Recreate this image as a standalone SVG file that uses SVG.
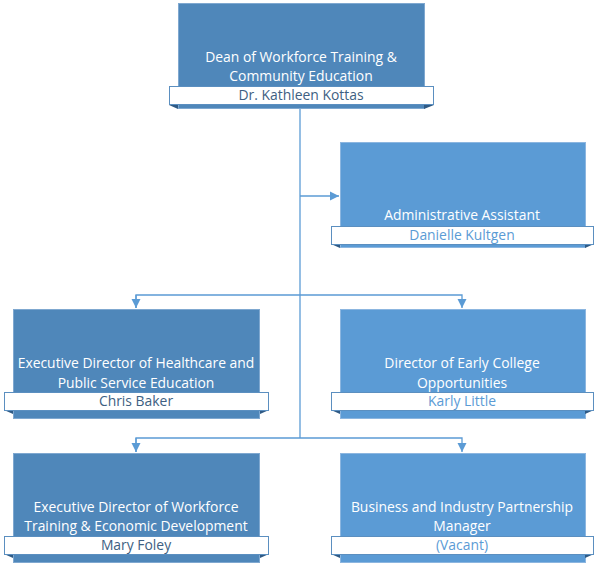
<svg xmlns="http://www.w3.org/2000/svg" width="600" height="571" viewBox="0 0 600 571">
<defs>
<marker id="arr" markerWidth="10" markerHeight="10" refX="9" refY="5" orient="auto" markerUnits="userSpaceOnUse">
<path d="M0,0.5 L9,5 L0,9.5 Z" fill="#5B9BD5"/>
</marker>
</defs>
<style>
.dark{fill:#4F87BA;stroke:#7FA8D0;stroke-width:1}
.light{fill:#5B9BD5;stroke:#8CB6E0;stroke-width:1}
.bar{fill:#FFFFFF;stroke:#5B8FC0;stroke-width:1}
.fold{fill:#2F5A85}
.t{font-family:"Open Sans","Noto Sans",sans-serif;font-size:13.9px;fill:#FFFFFF;text-anchor:middle}
.nd{font-family:"Open Sans","Noto Sans",sans-serif;font-size:13.9px;fill:#3E5F82;text-anchor:middle}
.nl{font-family:"Open Sans","Noto Sans",sans-serif;font-size:13.9px;fill:#5B9BD5;text-anchor:middle}
.c{fill:none;stroke:#5B9BD5;stroke-width:1.3}
</style>
<rect width="600" height="571" fill="#FFFFFF"/>
<g id="connectors">
<path class="c" d="M300,108 V438"/>
<path class="c" d="M300,196 H339" marker-end="url(#arr)"/>
<path class="c" d="M136,308 V295 H462 V308" marker-end="url(#arr)"/>
<path class="c" d="M136,295 V308" marker-end="url(#arr)"/>
<path class="c" d="M136,452 V438 H462 V452" marker-end="url(#arr)"/>
<path class="c" d="M136,438 V452" marker-end="url(#arr)"/>
</g>
<g id="dean">
<rect class="dark" x="178.5" y="3.5" width="246" height="105"/>
<polygon class="fold" points="169,105 178,105 178,109"/>
<polygon class="fold" points="434,105 424,105 424,109"/>
<rect class="bar" x="169.5" y="86.5" width="264" height="18"/>
<text class="t" x="301" y="62">Dean of Workforce Training &amp;</text>
<text class="t" x="301" y="81">Community Education</text>
<text class="nd" x="301" y="100">Dr. Kathleen Kottas</text>
</g>
<g id="admin">
<rect class="light" x="340.5" y="142.5" width="245" height="105"/>
<polygon class="fold" points="331,244 340,244 340,248"/>
<polygon class="fold" points="594,244 585,244 585,248"/>
<rect class="bar" x="331.5" y="226.5" width="262" height="18"/>
<text class="t" x="462" y="220">Administrative Assistant</text>
<text class="nl" x="462" y="240">Danielle Kultgen</text>
</g>
<g id="healthcare">
<rect class="dark" x="13.5" y="309.5" width="246" height="109"/>
<polygon class="fold" points="4,410 13,410 13,414"/>
<polygon class="fold" points="269,410 260,410 260,414"/>
<rect class="bar" x="4.5" y="392.5" width="264" height="18"/>
<text class="t" x="136" y="368">Executive Director of Healthcare and</text>
<text class="t" x="136" y="388">Public Service Education</text>
<text class="nd" x="136" y="406">Chris Baker</text>
</g>
<g id="earlycollege">
<rect class="light" x="340.5" y="309.5" width="245" height="109"/>
<polygon class="fold" points="331,410 340,410 340,414"/>
<polygon class="fold" points="594,410 585,410 585,414"/>
<rect class="bar" x="331.5" y="392.5" width="262" height="18"/>
<text class="t" x="462" y="368">Director of Early College</text>
<text class="t" x="462" y="388">Opportunities</text>
<text class="nl" x="462" y="406">Karly Little</text>
</g>
<g id="workforce">
<rect class="dark" x="13.5" y="453.5" width="246" height="109"/>
<polygon class="fold" points="4,554 13,554 13,558"/>
<polygon class="fold" points="269,554 260,554 260,558"/>
<rect class="bar" x="4.5" y="536.5" width="264" height="18"/>
<text class="t" x="136" y="512">Executive Director of Workforce</text>
<text class="t" x="136" y="531">Training &amp; Economic Development</text>
<text class="nd" x="136" y="550">Mary Foley</text>
</g>
<g id="business">
<rect class="light" x="340.5" y="453.5" width="245" height="109"/>
<polygon class="fold" points="331,554 340,554 340,558"/>
<polygon class="fold" points="594,554 585,554 585,558"/>
<rect class="bar" x="331.5" y="536.5" width="262" height="18"/>
<text class="t" x="462" y="512">Business and Industry Partnership</text>
<text class="t" x="462" y="531">Manager</text>
<text class="nl" x="462" y="550">(Vacant)</text>
</g>
</svg>
